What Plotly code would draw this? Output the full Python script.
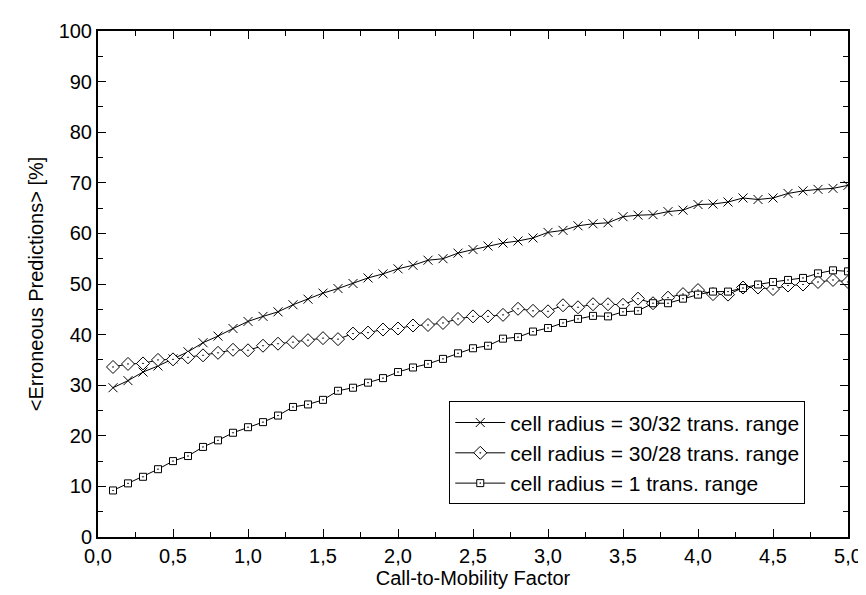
import plotly.graph_objects as go

x_vals = [round(0.1 * i, 1) for i in range(1, 51)]

s_32 = [29.5, 30.9, 32.6, 33.8, 35.2, 36.6, 38.4, 39.7, 41.2, 42.6,
        43.6, 44.5, 45.9, 47.0, 48.2, 49.1, 50.1, 51.2, 52.0, 53.0,
        53.7, 54.7, 55.0, 56.1, 56.8, 57.5, 58.1, 58.5, 59.1, 60.2,
        60.6, 61.5, 61.9, 62.1, 63.3, 63.6, 63.7, 64.3, 64.6, 65.7,
        65.8, 66.2, 67.0, 66.7, 67.0, 67.9, 68.4, 68.7, 68.9, 69.5]

s_28 = [33.6, 34.2, 34.3, 35.0, 35.1, 35.5, 35.9, 36.4, 37.0, 36.9,
        37.8, 38.2, 38.5, 38.9, 39.3, 39.1, 40.2, 40.4, 41.0, 41.2,
        41.8, 41.9, 42.3, 43.1, 43.6, 43.6, 43.9, 45.1, 44.7, 44.6,
        45.8, 45.4, 46.0, 46.0, 45.9, 47.1, 46.2, 47.3, 48.0, 48.8,
        48.0, 47.9, 49.3, 49.3, 49.0, 49.7, 49.9, 50.4, 50.8, 50.4]

s_1 = [9.2, 10.6, 11.9, 13.4, 15.0, 16.0, 17.8, 19.1, 20.6, 21.7,
       22.7, 24.0, 25.7, 26.2, 27.1, 28.9, 29.5, 30.5, 31.4, 32.6,
       33.5, 34.2, 35.2, 36.3, 37.3, 37.8, 39.2, 39.5, 40.6, 41.3,
       42.3, 43.1, 43.7, 43.6, 44.5, 44.7, 46.2, 46.2, 47.1, 47.9,
       48.5, 48.5, 49.2, 49.9, 50.4, 50.8, 51.2, 52.1, 52.7, 52.5]

names = ["cell radius = 30/32 trans. range",
         "cell radius = 30/28 trans. range",
         "cell radius = 1 trans. range"]

x_tick_vals = [0, 0.5, 1, 1.5, 2, 2.5, 3, 3.5, 4, 4.5, 5]
y_tick_vals = [0, 10, 20, 30, 40, 50, 60, 70, 80, 90, 100]

FONT = "Liberation Sans, Arial, sans-serif"
FS = 20

fig = go.Figure()
fig.add_trace(go.Scatter(
    x=x_vals, y=s_32, name=names[0], mode="lines+markers",
    line=dict(color="black", width=1),
    marker=dict(symbol="x-thin-open", size=9, color="black",
                line=dict(color="black", width=1))))
fig.add_trace(go.Scatter(
    x=x_vals, y=s_28, name=names[1], mode="lines+markers",
    line=dict(color="black", width=1),
    marker=dict(symbol="diamond-dot", size=10, color="white",
                line=dict(color="black", width=1))))
fig.add_trace(go.Scatter(
    x=x_vals, y=s_1, name=names[2], mode="lines+markers",
    line=dict(color="black", width=1),
    marker=dict(symbol="square-dot", size=7, color="white",
                line=dict(color="black", width=1))))

axis_common = dict(
    showline=True, linecolor="black", linewidth=2, mirror="allticks",
    ticks="inside", ticklen=8, tickwidth=1, tickcolor="black",
    showgrid=False, zeroline=False,
    tickfont=dict(family=FONT, size=FS, color="black"),
)

fig.update_xaxes(
    range=[0, 5], tickvals=x_tick_vals, tickformat=".1f",
    title=dict(text="Call-to-Mobility Factor",
               font=dict(family=FONT, size=FS, color="black"), standoff=4),
    minor=dict(ticks="inside", ticklen=5, dtick=0.25, tickcolor="black", showgrid=False),
    **axis_common)
fig.update_yaxes(
    range=[0, 100], tickvals=y_tick_vals,
    title=dict(text="&lt;Erroneous Predictions&gt; [%]",
               font=dict(family=FONT, size=FS, color="black"), standoff=10),
    minor=dict(ticks="inside", ticklen=5, dtick=5, tickcolor="black", showgrid=False),
    **axis_common)

fig.update_layout(
    width=866, height=595,
    margin=dict(l=90, r=19, t=17, b=66),
    plot_bgcolor="white", paper_bgcolor="white",
    separators=",.",
    font=dict(family=FONT, size=FS, color="black"),
    legend=dict(x=0.943, y=0.0645, xanchor="right", yanchor="bottom",
                bgcolor="white", bordercolor="black", borderwidth=1,
                font=dict(family=FONT, size=21, color="black"),
                itemwidth=50, tracegroupgap=0),
    showlegend=True,
)

fig.write_html("out.html")
